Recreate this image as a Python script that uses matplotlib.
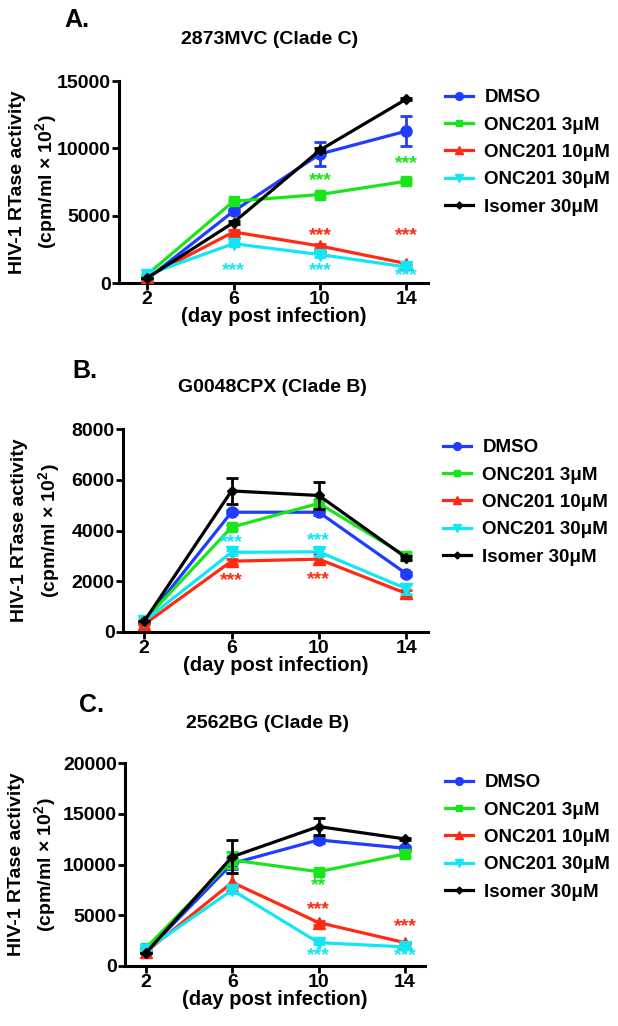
import numpy as np
import matplotlib
matplotlib.use("Agg")
import matplotlib.pyplot as plt
from matplotlib.lines import Line2D

plt.rcParams['font.family'] = ['Liberation Sans', 'DejaVu Sans']
plt.rcParams['font.weight'] = 'bold'
plt.rcParams['axes.labelweight'] = 'bold'
plt.rcParams['mathtext.fontset'] = 'custom'
plt.rcParams['mathtext.rm'] = 'Liberation Sans:bold'
plt.rcParams['mathtext.bf'] = 'Liberation Sans:bold'

days = [2, 6, 10, 14]
labels = ["DMSO", "ONC201 3μM", "ONC201 10μM", "ONC201 30μM", "Isomer 30μM"]
colors = ["#1f3cff", "#19e619", "#ff2a12", "#12e6f5", "#000000"]
markers = ["o", "s", "^", "v", "D"]
msizes = [8, 7, 8, 8, 5]

# panel A: 2873MVC (Clade C)
a_mean = [[300, 5330, 9580, 11280],
          [620, 6070, 6570, 7560],
          [450, 3790, 2750, 1440],
          [620, 2920, 2110, 1190],
          [370, 4490, 9870, 13660]]
a_err = [[0, 150, 900, 1100],
         [0, 100, 150, 150],
         [0, 150, 150, 100],
         [0, 150, 150, 100],
         [0, 100, 150, 100]]
a_stars = [(10, 1, "***", 7640), (14, 1, "***", 8880), (10, 2, "***", 3550),
           (14, 2, "***", 3550), (6, 3, "***", 890), (10, 3, "***", 890),
           (14, 3, "***", 570)]

# panel B: G0048CPX (Clade B)
b_mean = [[400, 4720, 4720, 2300],
          [450, 4130, 5070, 2990],
          [300, 2790, 2870, 1520],
          [430, 3140, 3160, 1710],
          [420, 5560, 5380, 2930]]
b_err = [[0, 80, 100, 80],
         [0, 80, 150, 80],
         [0, 100, 200, 150],
         [0, 100, 150, 200],
         [0, 500, 520, 80]]
b_stars = [(6, 3, "***", 3520), (10, 3, "***", 3620),
           (6, 2, "***", 2020), (10, 2, "***", 2080)]

# panel C: 2562BG (Clade B)
c_mean = [[1400, 10100, 12420, 11600],
          [1780, 10440, 9290, 11040],
          [1400, 8240, 4280, 2300],
          [1600, 7480, 2300, 1880],
          [1290, 10770, 13740, 12520]]
c_err = [[0, 500, 300, 200],
         [0, 800, 200, 200],
         [0, 900, 200, 100],
         [0, 300, 150, 100],
         [0, 1600, 800, 100]]
c_stars = [(10, 1, "**", 7970), (10, 2, "***", 5570), (14, 2, "***", 3920),
           (10, 3, "***", 1050), (14, 3, "***", 1050)]

W, H = 618, 1026
fig = plt.figure(figsize=(W / 100, H / 100), dpi=100)


def panel(letter, title, means, errs, stars, ymax, ystep, box, xlim,
          letter_xy, title_xy, ylab_x, leg_xy):
    l, t, r, b = box
    ax = fig.add_axes([l / W, 1 - b / H, (r - l) / W, (b - t) / H])
    for i in range(5):
        ax.errorbar(days, means[i], yerr=errs[i], color=colors[i], lw=2.3,
                    marker=markers[i], ms=msizes[i], capsize=4.5,
                    capthick=2, elinewidth=2, zorder=3 + i)
    for d, i, s, y in stars:
        ax.text(d, y, s, color=colors[i], fontsize=14, ha="center",
                va="center", zorder=10)
    ax.set_xlim(*xlim)
    ax.set_ylim(0, ymax)
    ax.set_xticks(days)
    ax.set_yticks(np.arange(0, ymax + 1, ystep))
    for s in ["top", "right"]:
        ax.spines[s].set_visible(False)
    for s in ["left", "bottom"]:
        ax.spines[s].set_linewidth(2.2)
    ax.tick_params(width=2, length=5, labelsize=14, pad=1)
    ax.set_xlabel("(day post infection)", fontsize=14.5, labelpad=-1)
    yc = 1 - (t + b) / 2 / H
    fig.text(ylab_x[0] / W, yc, "HIV-1 RTase activity", rotation=90,
             ha="center", va="center", fontsize=14)
    fig.text(ylab_x[1] / W, yc, "(cpm/ml × 10$^{2}$)", rotation=90,
             ha="center", va="center", fontsize=14)
    fig.text(letter_xy[0] / W, 1 - letter_xy[1] / H, letter, fontsize=18,
             ha="left", va="center")
    fig.text(title_xy[0] / W, 1 - title_xy[1] / H, title, fontsize=14,
             ha="center", va="center")
    handles = [Line2D([], [], color=colors[i], marker=markers[i], lw=2.3,
                      ms=msizes[i] * 0.7) for i in range(5)]
    fig.legend(handles, labels, loc="upper left",
               bbox_to_anchor=(leg_xy[0] / W, 1 - leg_xy[1] / H),
               frameon=False, fontsize=13.5, handlelength=1.5,
               handletextpad=0.6, labelspacing=0.55, borderpad=0,
               borderaxespad=0)


panel("A.", "2873MVC (Clade C)", a_mean, a_err, a_stars, 15000, 5000,
      (119, 81, 428, 283), (0.7, 15.0), (64, 20), (270, 40), (18, 47),
      (445, 89))
panel("B.", "G0048CPX (Clade B)", b_mean, b_err, b_stars, 8000, 2000,
      (123, 429, 428, 632), (1.03, 15.0), (72, 371), (272, 388), (20, 50),
      (443, 439))
panel("C.", "2562BG (Clade B)", c_mean, c_err, c_stars, 20000, 5000,
      (125, 763, 425, 966), (1.03, 14.93), (79, 705), (268, 723), (17, 46),
      (445, 774))

fig.savefig("out.png", dpi=100)
